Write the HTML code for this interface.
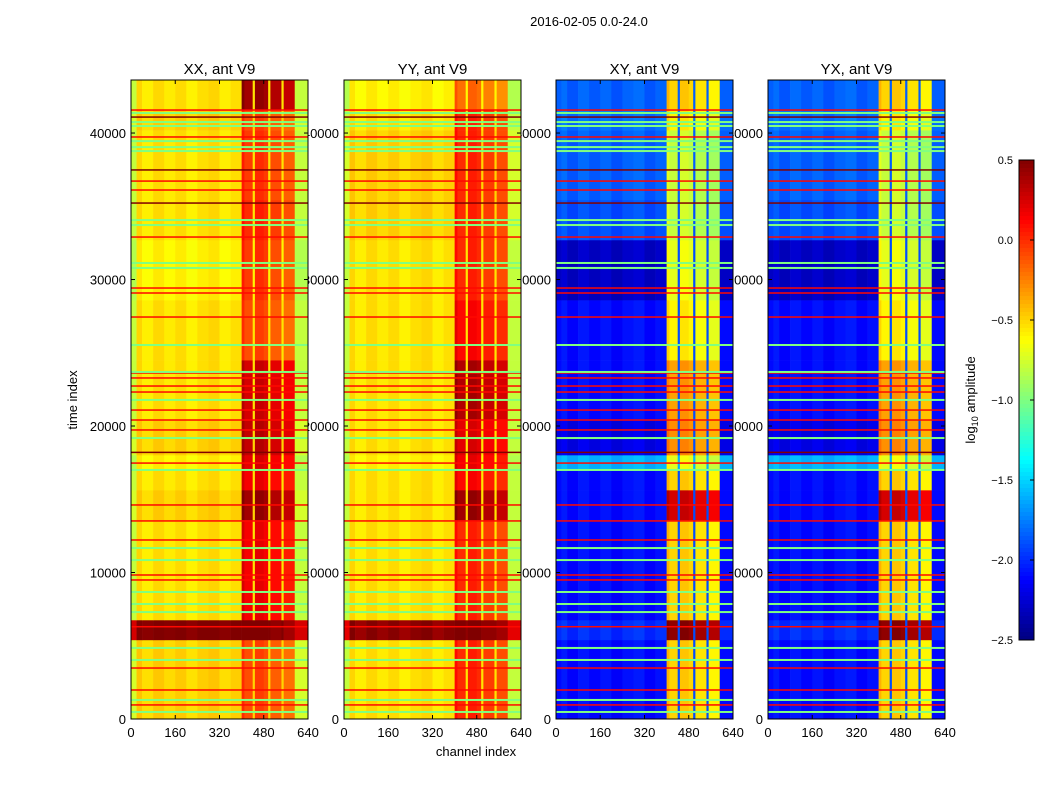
<!DOCTYPE html>
<html><head><meta charset="utf-8"><style>
body{margin:0;background:#fff;}
svg{display:block;font-family:"Liberation Sans",sans-serif;}
</style></head><body>
<svg id="fig" width="1050" height="800" xmlns="http://www.w3.org/2000/svg">
<text x="589" y="26" font-size="13" text-anchor="middle">2016-02-05 0.0-24.0</text>
<text x="476" y="756" font-size="13" text-anchor="middle">channel index</text>
<text transform="translate(77,400) rotate(-90)" font-size="13" text-anchor="middle">time index</text>
<text transform="translate(975,400) rotate(-90)" font-size="13" text-anchor="middle">log<tspan font-size="9" dy="3">10</tspan><tspan dy="-3"> amplitude</tspan></text>
<g id="labels"></g>
<g id="images"></g>
<g id="frames"></g>
<g id="cbar"></g>
</svg>
<script>
// ---- data ----
const panelTitles = ["XX, ant V9","YY, ant V9","XY, ant V9","YX, ant V9"];
const channelEdges = [0,20,40,80,120,160,200,240,280,320,360,400,410,440,448,480,496,504,544,552,592,600,640];
const channelKind = ["edge","bg","bg","bg","bg","bg","bg","bg","bg","bg","bg","act","act","gap","act","act","gap","act","gap","act","edge","edge"];
const channelDelta = [0,0.05,-0.03,0.04,-0.02,0.03,-0.04,0.02,0.05,-0.03,0.02,0.1,0,0,0.05,0,0,-0.05,0,-0.1,0,-0.05];
const timeEdges = [0,5400,6760,13580,15630,17000,18020,20410,24500,28600,32700,35430,40200,41570,43620];
const xxAct = [-0.1,0.5,0.15,0.4,0.15,0.2,0.3,0.25,-0.1,-0.05,0.0,-0.05,-0.1,0.4];
const xxBg  = [-0.5,0.5,-0.55,-0.5,-0.55,-0.6,-0.5,-0.55,-0.55,-0.6,-0.55,-0.55,-0.5,-0.55];
const yyAct = [0.0,0.5,0.0,0.4,0.1,0.15,0.2,0.35,0.1,0.0,0.0,0.0,0.0,-0.2];
const yyBg  = [-0.55,0.45,-0.55,-0.55,-0.55,-0.6,-0.55,-0.55,-0.55,-0.55,-0.5,-0.5,-0.55,-0.6];
const xyAct = [-0.5,0.45,-0.5,0.25,-0.5,-0.7,-0.3,-0.35,-0.6,-0.7,-0.8,-0.8,-0.6,-0.5];
const xyBg  = [-2.1,-2.0,-2.1,-2.1,-2.1,-1.6,-2.2,-2.1,-2.1,-2.3,-1.9,-1.85,-1.8,-1.85];
const yxAct = [-0.5,0.45,-0.5,0.25,-0.5,-0.7,-0.3,-0.35,-0.6,-0.7,-0.8,-0.8,-0.6,-0.5];
const yxBg  = [-2.1,-2.0,-2.1,-2.1,-2.1,-1.6,-2.2,-2.1,-2.1,-2.3,-1.9,-1.85,-1.8,-1.85];
const redLineTimes = [41570,39730,36720,36110,32900,29420,29080,27440,23620,23280,22730,22320,21090,20410,19730,17470,14610,13520,12220,9830,9490,6300,3480,1980,960];
const darkLineTimes = [41090,37480,35220,18200];
const greenLineTimes = [41370,40750,40480,39450,39040,38770,34060,33720,31130,30790,25530,23690,21780,19180,17000,11670,10850,8670,7850,7300,4850,4030,1300,480];
const xTicks = [0,160,320,480,640];
const yTicks = [0,10000,20000,30000,40000];
const cbTicks = [0.5,0.0,-0.5,-1.0,-1.5,-2.0,-2.5];
const cbTickLabels = ["0.5","0.0","\u22120.5","\u22121.0","\u22121.5","\u22122.0","\u22122.5"];

// ---- layout ----
const NS="http://www.w3.org/2000/svg";
const lefts=[131,344,556,768], PW=177, TOP=80, BOT=719, TMAX=43620, VMIN=-2.5, VMAX=0.5;
const actArr=[xxAct,yyAct,xyAct,yxAct], bgArr=[xxBg,yyBg,xyBg,yxBg];
function xs(p,ch){return lefts[p]+ch/640*PW;}
function ys(t){return BOT-t/TMAX*(BOT-TOP);}
function jet(v){let f=(v-VMIN)/(VMAX-VMIN);f=Math.max(0,Math.min(1,f));
 const c=x=>Math.round(255*Math.max(0,Math.min(1,x)));
 return `rgb(${c(1.5-Math.abs(4*f-3))},${c(1.5-Math.abs(4*f-2))},${c(1.5-Math.abs(4*f-1))})`;}
function mk(tag,attrs,parent){const e=document.createElementNS(NS,tag);for(const k in attrs)e.setAttribute(k,attrs[k]);parent.appendChild(e);return e;}
const gL=document.getElementById('labels'),gI=document.getElementById('images'),gF=document.getElementById('frames'),gC=document.getElementById('cbar');

for(let p=0;p<4;p++){
 const cross=p>=2;
 const t=mk('text',{x:lefts[p]+PW/2,y:74,'font-size':15,'text-anchor':'middle'},gL);t.textContent=panelTitles[p];
 
 
 yTicks.forEach(v=>{const e=mk('text',{x:lefts[p]-5,y:ys(v)+5,'font-size':13,'text-anchor':'end'},gL);e.textContent=v;
  
  });
 xTicks.forEach(v=>{const e=mk('text',{x:xs(p,v),y:737,'font-size':13,'text-anchor':'middle'},gL);e.textContent=v;
  
  });
 const g=mk('g',{},gI);
 
 
 for(let b=0;b<timeEdges.length-1;b++){
  const y0=ys(timeEdges[b+1]),y1=ys(timeEdges[b]);
  for(let c=0;c<channelEdges.length-1;c++){
   const k=channelKind[c];let v;
   if(k==="act")v=actArr[p][b]+channelDelta[c];
   else if(k==="gap")v=cross?Math.max(bgArr[p][b],-1.9):bgArr[p][b];
   else if(k==="edge")v=cross?bgArr[p][b]:bgArr[p][b]-0.25;
   else v=bgArr[p][b]+channelDelta[c];
   const x0=xs(p,channelEdges[c]),x1=xs(p,channelEdges[c+1]);
   const r=mk('rect',{x:x0,y:y0,width:x1-x0+0.3,height:y1-y0+0.3,fill:jet(v)},g);
   
   
  }
 }
 const lines=[[redLineTimes,0.1,1.5],[darkLineTimes,0.5,1.5],[greenLineTimes,-1.0,2]];
 lines.forEach(([arr,val,h])=>arr.forEach(tv=>{
  const r=mk('rect',{x:lefts[p],y:ys(tv)-h/2,width:PW,height:h,fill:jet(val)},g);
  
  }));
 const f=mk('rect',{x:lefts[p],y:TOP,width:PW,height:BOT-TOP,fill:'none',stroke:'#000','stroke-width':1},gF);
 
 
 xTicks.forEach(v=>{mk('line',{x1:xs(p,v),x2:xs(p,v),y1:BOT,y2:BOT-4,stroke:'#000'},gF);mk('line',{x1:xs(p,v),x2:xs(p,v),y1:TOP,y2:TOP+4,stroke:'#000'},gF);});
 yTicks.forEach(v=>{mk('line',{x1:lefts[p],x2:lefts[p]+4,y1:ys(v),y2:ys(v),stroke:'#000'},gF);mk('line',{x1:lefts[p]+PW,x2:lefts[p]+PW-4,y1:ys(v),y2:ys(v),stroke:'#000'},gF);});
}
// colorbar
const cbX=1019,cbW=15,cbT=160,cbB=640,N=120;
for(let i=0;i<N;i++){const v=VMAX-(i+0.5)/N*(VMAX-VMIN);
 const r=mk('rect',{x:cbX,y:cbT+i*(cbB-cbT)/N,width:cbW,height:(cbB-cbT)/N+0.5,fill:jet(v)},gC);
 
 }
const cf=mk('rect',{x:cbX,y:cbT,width:cbW,height:cbB-cbT,fill:'none',stroke:'#000'},gC);


cbTicks.forEach((v,i)=>{const y=cbT+(VMAX-v)/(VMAX-VMIN)*(cbB-cbT);
 mk('line',{x1:cbX+cbW,x2:cbX+cbW-4,y1:y,y2:y,stroke:'#000'},gC);
 const e=mk('text',{x:cbX-6,y:y+4,'font-size':11,'text-anchor':'end'},gC);e.textContent=cbTickLabels[i];
 
 });
</script>
</body></html>
